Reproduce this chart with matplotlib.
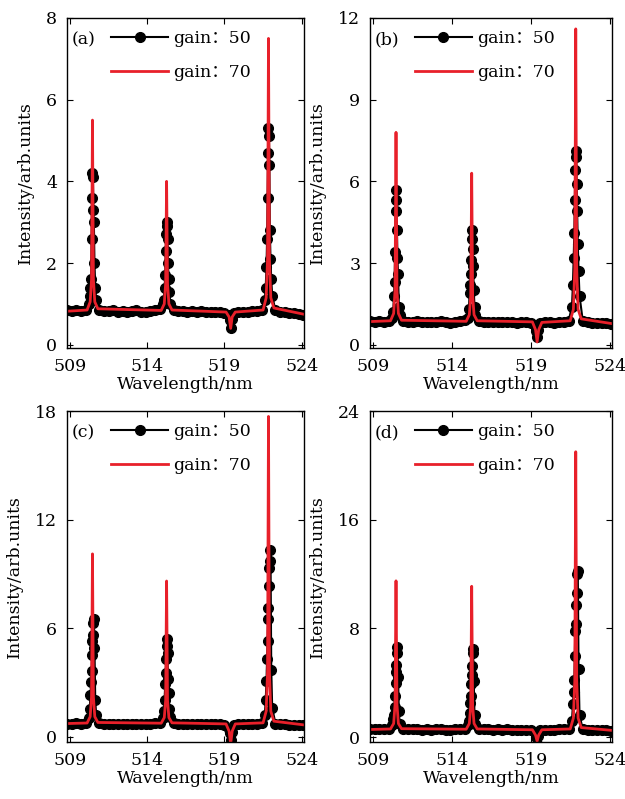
import matplotlib
matplotlib.use('Agg')
import matplotlib.pyplot as plt
import numpy as np

plt.rcParams['font.family'] = ['DejaVu Serif', 'Noto Sans CJK SC']
plt.rcParams['font.size'] = 12
plt.rcParams['mathtext.fontset'] = 'dejavuserif'

# black (gain 50) baseline samples, 508.8 .. 524.1 nm every 0.3 nm
base_wl = np.round(508.8 + 0.3 * np.arange(52), 2)

base_a = [0.84, 0.82, 0.85, 0.83, 0.86, 1.00, 1.05,
          0.86, 0.83, 0.82, 0.84, 0.81, 0.83, 0.80, 0.82, 0.84, 0.81, 0.79, 0.83, 0.85, 0.88,
          1.00, 0.98,
          0.86, 0.83, 0.82, 0.80, 0.82, 0.81, 0.83, 0.80, 0.79, 0.81, 0.80, 0.78,
          0.72, 0.78,
          0.80, 0.81, 0.79, 0.82, 0.83, 0.86,
          1.10, 1.05,
          0.84, 0.80, 0.79, 0.77, 0.78, 0.76, 0.74]
base_b = [0.86, 0.84, 0.87, 0.85, 0.88, 1.05, 1.10,
          0.88, 0.85, 0.84, 0.86, 0.83, 0.85, 0.82, 0.84, 0.86, 0.83, 0.81, 0.85, 0.87, 0.90,
          1.05, 1.00,
          0.88, 0.85, 0.84, 0.82, 0.84, 0.83, 0.85, 0.82, 0.81, 0.83, 0.82, 0.80,
          0.60, 0.80,
          0.82, 0.83, 0.81, 0.84, 0.85, 0.88,
          1.15, 1.10,
          0.86, 0.82, 0.81, 0.79, 0.80, 0.78, 0.76]
base_c = [0.72, 0.70, 0.73, 0.71, 0.74, 0.95, 1.00,
          0.74, 0.71, 0.70, 0.72, 0.69, 0.71, 0.68, 0.70, 0.72, 0.69, 0.67, 0.71, 0.73, 0.76,
          0.95, 0.90,
          0.74, 0.71, 0.70, 0.68, 0.70, 0.69, 0.71, 0.68, 0.67, 0.69, 0.68, 0.66,
          0.40, 0.66,
          0.68, 0.69, 0.67, 0.70, 0.71, 0.74,
          1.10, 1.00,
          0.72, 0.68, 0.67, 0.65, 0.66, 0.64, 0.62]
base_d = [0.58, 0.56, 0.59, 0.57, 0.60, 0.85, 0.90,
          0.60, 0.57, 0.56, 0.58, 0.55, 0.57, 0.54, 0.56, 0.58, 0.55, 0.53, 0.57, 0.59, 0.62,
          0.85, 0.80,
          0.60, 0.57, 0.56, 0.54, 0.56, 0.55, 0.57, 0.54, 0.53, 0.55, 0.54, 0.52,
          0.20, 0.52,
          0.54, 0.55, 0.53, 0.56, 0.57, 0.60,
          1.00, 0.90,
          0.58, 0.54, 0.53, 0.51, 0.52, 0.50, 0.48]

# black dots across each emission line
peak_centers = [510.45, 515.25, 521.85]
peak_dx = [-0.24, -0.18, -0.13, -0.09, -0.06, -0.03, 0.0, 0.03, 0.06, 0.09, 0.13, 0.18, 0.24]

pk_a = [[1.0, 1.2, 1.4, 1.6, 2.6, 3.6, 4.2, 4.1, 3.3, 3.0, 2.0, 1.4, 1.1],
        [1.0, 1.1, 1.4, 1.7, 2.3, 2.7, 3.0, 2.9, 2.6, 2.0, 1.6, 1.3, 1.0],
        [1.1, 1.4, 1.9, 2.6, 3.6, 4.7, 5.3, 5.1, 4.4, 2.8, 2.1, 1.6, 1.2]]
pk_b = [[1.0, 1.2, 1.8, 2.3, 3.4, 4.9, 5.7, 5.3, 4.2, 3.2, 2.6, 1.4, 1.1],
        [1.0, 1.3, 1.9, 2.2, 2.6, 3.1, 3.9, 4.2, 3.5, 2.9, 2.0, 1.4, 1.1],
        [1.4, 2.2, 3.2, 4.1, 5.3, 6.4, 7.1, 6.9, 5.9, 4.9, 3.7, 2.7, 1.8]]
pk_c = [[1.0, 1.5, 2.3, 3.0, 3.6, 4.5, 5.3, 5.6, 6.3, 6.5, 4.9, 2.0, 1.2],
        [1.0, 1.4, 2.0, 2.9, 3.5, 4.3, 5.0, 5.4, 4.6, 3.2, 2.4, 1.5, 1.1],
        [1.2, 2.0, 3.1, 4.3, 5.3, 6.5, 7.1, 8.3, 9.3, 9.7, 10.3, 3.7, 1.6]]
pk_d = [[0.9, 1.3, 1.6, 2.2, 3.0, 4.0, 4.8, 5.3, 6.2, 6.6, 4.4, 1.9, 1.0],
        [0.9, 1.2, 1.8, 2.5, 3.0, 3.9, 4.6, 5.2, 6.2, 6.5, 4.1, 1.6, 1.0],
        [1.2, 2.4, 3.3, 4.2, 6.0, 7.8, 8.3, 9.7, 10.6, 12.0, 12.2, 5.0, 1.6]]

# black dots in the absorption dip near 519.4 nm
dip_wl = [519.34, 519.40, 519.46]
dip_a = [0.60, 0.42, 0.62]
dip_b = [0.50, 0.30, 0.55]
dip_c = [0.20, -0.20, 0.25]
dip_d = [0.00, -0.50, 0.05]

# red (gain 70) line
red_wl = [508.8, 510.1, 510.3, 510.39, 510.45, 510.51, 510.6, 510.8,
          514.9, 515.1, 515.19, 515.25, 515.31, 515.4, 515.6,
          519.1, 519.3, 519.4, 519.5, 519.7,
          521.5, 521.7, 521.79, 521.85, 521.91, 522.0, 522.2, 524.1]
red_a = [0.82, 0.85, 1.05, 1.6, 5.5, 1.6, 1.05, 0.88,
         0.84, 1.0, 1.5, 4.0, 1.5, 1.0, 0.85,
         0.80, 0.68, 0.40, 0.68, 0.80,
         0.85, 1.15, 2.1, 7.5, 2.1, 1.15, 0.90, 0.75]
red_b = [0.85, 0.88, 1.15, 2.0, 7.8, 2.0, 1.15, 0.90,
         0.86, 1.1, 1.8, 6.3, 1.8, 1.1, 0.88,
         0.84, 0.55, 0.10, 0.55, 0.82,
         0.88, 1.3, 2.8, 11.6, 2.8, 1.3, 0.95, 0.78]
red_c = [0.72, 0.75, 1.1, 2.2, 10.1, 2.2, 1.1, 0.78,
         0.74, 1.05, 2.0, 8.6, 2.0, 1.05, 0.76,
         0.70, 0.30, -0.40, 0.30, 0.70,
         0.76, 1.4, 3.6, 17.7, 3.6, 1.4, 0.85, 0.65]
red_d = [0.56, 0.60, 1.0, 2.4, 11.5, 2.4, 1.0, 0.62,
         0.58, 1.0, 2.3, 11.1, 2.3, 1.0, 0.60,
         0.54, 0.15, -0.30, 0.15, 0.54,
         0.60, 1.4, 4.2, 21.0, 4.2, 1.4, 0.70, 0.50]

panels = ['(a)', '(b)', '(c)', '(d)']
y_tops = [8, 12, 18, 24]
y_bottoms = [-0.08, -0.12, -0.3, -0.36]
y_ticks = [[0, 2, 4, 6, 8], [0, 3, 6, 9, 12], [0, 6, 12, 18], [0, 8, 16, 24]]
x_ticks = [509, 514, 519, 524]

bases = [base_a, base_b, base_c, base_d]
peaks = [pk_a, pk_b, pk_c, pk_d]
dips = [dip_a, dip_b, dip_c, dip_d]
reds = [red_a, red_b, red_c, red_d]

W, H = 625, 799
rects = [(67, 18, 304, 348), (370, 18, 612, 348),
         (67, 411, 304, 742), (370, 411, 612, 742)]

fig = plt.figure(figsize=(W / 100, H / 100), dpi=100)

for i in range(4):
    l, t, r, b = rects[i]
    ax = fig.add_axes([l / W, 1 - b / H, (r - l) / W, (b - t) / H])

    # merge baseline, peak and dip samples of the black series
    pts = []
    for x, y in zip(base_wl, bases[i]):
        near = any(abs(x - c) < 0.2 for c in peak_centers) or abs(x - 519.4) < 0.1
        if not near:
            pts.append((x, y))
    for c, vals in zip(peak_centers, peaks[i]):
        for dx, y in zip(peak_dx, vals):
            pts.append((c + dx, y))
    for x, y in zip(dip_wl, dips[i]):
        pts.append((x, y))
    pts.sort()
    bx = [p[0] for p in pts]
    by = [p[1] for p in pts]

    ax.plot(bx, by, color='black', lw=1.5, marker='o', ms=7, label='gain：50')
    ax.plot(red_wl, reds[i], color='#e8202a', lw=2.0, label='gain：70')

    ax.set_xlim(508.8, 524.15)
    ax.set_ylim(y_bottoms[i], y_tops[i])
    ax.set_xticks(x_ticks)
    ax.set_yticks(y_ticks[i])
    ax.tick_params(direction='in', top=True, right=True, length=4, labelsize=12.5, pad=7)
    ax.set_xlabel('Wavelength/nm', fontsize=12.5, labelpad=1)
    ax.set_ylabel('Intensity/arb.units', fontsize=12.5, labelpad=9)
    for s in ax.spines.values():
        s.set_linewidth(1.0)

    ax.text(0.02, 0.96, panels[i], transform=ax.transAxes, ha='left', va='top', fontsize=12.5)
    ax.legend(loc='upper left', bbox_to_anchor=(0.12, 1.01), frameon=False,
              handlelength=3.3, handletextpad=0.3, labelspacing=0.95, fontsize=12.5)

fig.savefig('out.png', dpi=100)
